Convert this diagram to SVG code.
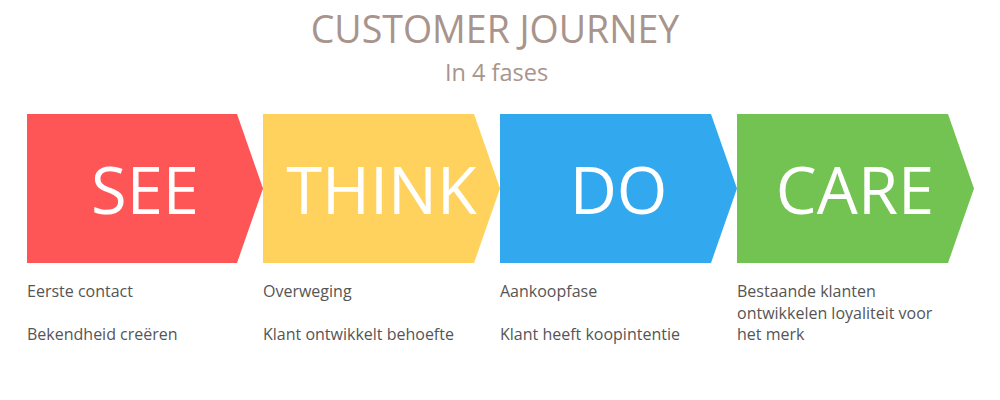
<svg xmlns="http://www.w3.org/2000/svg" width="1000" height="400" viewBox="0 0 1000 400">
<style>
.title{font-family:"Open Sans","Liberation Sans",sans-serif;fill:#a8948c;text-anchor:middle}
.big{font-family:"Open Sans","Liberation Sans",sans-serif;fill:#ffffff;font-size:65px;text-anchor:middle}
.desc{font-family:"Open Sans","Liberation Sans",sans-serif;fill:#555555;font-size:16px}
</style>
<rect width="1000" height="400" fill="#ffffff"/>
<text class="title" x="495" y="43" font-size="37.5">CUSTOMER JOURNEY</text>
<text class="title" x="496.5" y="81" font-size="23.5">In 4 fases</text>
<g id="see">
<polygon points="27,114 237,114 263,188.5 237,263 27,263" fill="#fe5656"/>
<text class="big" x="145" y="214">SEE</text>
<text class="desc" x="27" y="297">Eerste contact</text>
<text class="desc" x="27" y="340">Bekendheid creëren</text>
</g>
<g id="think">
<polygon points="263,114 474,114 500,188.5 474,263 263,263" fill="#fed25c"/>
<text class="big" x="381.5" y="214">THINK</text>
<text class="desc" x="263" y="297">Overweging</text>
<text class="desc" x="263" y="340">Klant ontwikkelt behoefte</text>
</g>
<g id="do">
<polygon points="500,114 711,114 737,188.5 711,263 500,263" fill="#32a9ee"/>
<text class="big" x="618.5" y="214">DO</text>
<text class="desc" x="500" y="297">Aankoopfase</text>
<text class="desc" x="500" y="340">Klant heeft koopintentie</text>
</g>
<g id="care">
<polygon points="737,114 948,114 974,188.5 948,263 737,263" fill="#72c351"/>
<text class="big" x="855" y="214">CARE</text>
<text class="desc" x="737" y="297">Bestaande klanten</text>
<text class="desc" x="737" y="318.5">ontwikkelen loyaliteit voor</text>
<text class="desc" x="737" y="340">het merk</text>
</g>
<g id="connectors"/>
</svg>
